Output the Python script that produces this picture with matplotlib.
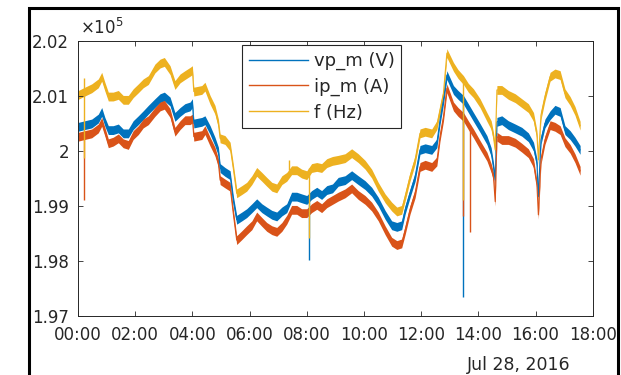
import numpy as np
import matplotlib
matplotlib.use('Agg')
import matplotlib.pyplot as plt
from matplotlib.lines import Line2D
from matplotlib.patches import Rectangle

plt.rcParams['font.family'] = ['DejaVu Sans']
plt.rcParams['mathtext.fontset'] = 'dejavusans'

# time of day in hours, Jul 28, 2016
hours = [0.01, 0.24, 0.48, 0.71, 0.83, 0.94, 1.06, 1.23, 1.41, 1.58,
         1.76, 1.93, 2.11, 2.28, 2.46, 2.69, 2.87, 3.02, 3.22, 3.39,
         3.57, 3.74, 3.92, 4.00, 4.05, 4.33, 4.44, 4.62, 4.79, 4.91,
         4.97, 5.14, 5.32, 5.43, 5.55, 5.73, 5.90, 6.08, 6.25, 6.43,
         6.60, 6.78, 6.95, 7.13, 7.30, 7.47, 7.65, 7.82, 8.00, 8.17,
         8.35, 8.52, 8.70, 8.90, 9.10, 9.34, 9.57, 9.80, 10.04, 10.27,
         10.50, 10.74, 10.97, 11.15, 11.32, 11.44, 11.61, 11.79, 11.96, 12.14,
         12.37, 12.55, 12.66, 12.78, 12.90, 13.13, 13.29, 13.48, 13.65, 13.83,
         14.06, 14.30, 14.45, 14.53, 14.59, 14.65, 14.82, 15.05, 15.29, 15.52,
         15.75, 15.93, 16.05, 16.10, 16.19, 16.33, 16.51, 16.68, 16.86, 17.03,
         17.21, 17.38, 17.56]

# values in units of 1e5
vp_m = [2.0044, 2.0047, 2.0050, 2.0059, 2.0071, 2.0053, 2.0038, 2.0038, 2.0041, 2.0032,
        2.0032, 2.0047, 2.0056, 2.0065, 2.0075, 2.0087, 2.0096, 2.0099, 2.0090, 2.0062,
        2.0071, 2.0078, 2.0081, 2.0087, 2.0050, 2.0053, 2.0056, 2.0038, 2.0017, 1.9999,
        1.9969, 1.9962, 1.9956, 1.9911, 1.9875, 1.9881, 1.9887, 1.9896, 1.9905, 1.9896,
        1.9890, 1.9884, 1.9881, 1.9890, 1.9896, 1.9917, 1.9917, 1.9914, 1.9911, 1.9920,
        1.9926, 1.9920, 1.9929, 1.9932, 1.9944, 1.9947, 1.9956, 1.9947, 1.9938, 1.9926,
        1.9908, 1.9884, 1.9865, 1.9862, 1.9865, 1.9893, 1.9923, 1.9953, 2.0002, 2.0005,
        2.0002, 2.0014, 2.0056, 2.0093, 2.0138, 2.0111, 2.0102, 2.0093, 2.0078, 2.0062,
        2.0042, 2.0020, 1.9998, 1.9971, 1.9947, 2.0053, 2.0056, 2.0047, 2.0041, 2.0035,
        2.0025, 2.0008, 1.9978, 1.9917, 2.0020, 2.0050, 2.0065, 2.0075, 2.0071, 2.0038,
        2.0029, 2.0017, 2.0002]

ip_m = [2.0026, 2.0029, 2.0032, 2.0041, 2.0053, 2.0035, 2.0014, 2.0017, 2.0023, 2.0014,
        2.0011, 2.0029, 2.0038, 2.0050, 2.0056, 2.0071, 2.0081, 2.0084, 2.0069, 2.0035,
        2.0047, 2.0056, 2.0056, 2.0059, 2.0026, 2.0029, 2.0038, 2.0017, 1.9999, 1.9978,
        1.9947, 1.9941, 1.9935, 1.9887, 1.9838, 1.9847, 1.9856, 1.9865, 1.9881, 1.9871,
        1.9862, 1.9856, 1.9853, 1.9862, 1.9875, 1.9893, 1.9893, 1.9887, 1.9887, 1.9896,
        1.9902, 1.9896, 1.9905, 1.9911, 1.9917, 1.9923, 1.9932, 1.9920, 1.9911, 1.9899,
        1.9881, 1.9856, 1.9835, 1.9829, 1.9832, 1.9856, 1.9893, 1.9923, 1.9971, 1.9975,
        1.9971, 1.9981, 2.0026, 2.0062, 2.0114, 2.0081, 2.0071, 2.0062, 2.0047, 2.0032,
        2.0011, 1.9990, 1.9969, 1.9953, 1.9908, 2.0026, 2.0020, 2.0020, 2.0015, 2.0006,
        1.9996, 1.9978, 1.9938, 1.9884, 1.9984, 2.0020, 2.0047, 2.0044, 2.0038, 2.0016,
        2.0004, 1.9987, 1.9964]

f_hz = [2.0102, 2.0108, 2.0114, 2.0123, 2.0135, 2.0117, 2.0099, 2.0099, 2.0102, 2.0093,
        2.0093, 2.0105, 2.0114, 2.0123, 2.0129, 2.0150, 2.0159, 2.0162, 2.0147, 2.0120,
        2.0132, 2.0138, 2.0144, 2.0147, 2.0108, 2.0111, 2.0117, 2.0093, 2.0075, 2.0050,
        2.0023, 2.0020, 2.0008, 1.9969, 1.9923, 1.9929, 1.9935, 1.9947, 1.9962, 1.9953,
        1.9944, 1.9935, 1.9932, 1.9947, 1.9953, 1.9965, 1.9965, 1.9959, 1.9956, 1.9969,
        1.9971, 1.9969, 1.9978, 1.9982, 1.9984, 1.9987, 1.9996, 1.9987, 1.9975, 1.9959,
        1.9935, 1.9914, 1.9899, 1.9890, 1.9893, 1.9917, 1.9953, 1.9984, 2.0032, 2.0035,
        2.0032, 2.0047, 2.0075, 2.0105, 2.0178, 2.0153, 2.0140, 2.0129, 2.0115, 2.0105,
        2.0087, 2.0062, 2.0047, 2.0026, 2.0002, 2.0111, 2.0111, 2.0102, 2.0096, 2.0087,
        2.0078, 2.0062, 2.0029, 1.9984, 2.0065, 2.0099, 2.0135, 2.0141, 2.0138, 2.0105,
        2.0091, 2.0073, 2.0046]

# half-width of the fast measurement noise band (units of 1e5)
noise_halfwidth = 0.0008

# isolated spikes: time, value before spike, spike tip
vp_spike_t = [8.09, 13.47]
vp_spike_base = [1.9920, 2.0093]
vp_spike_tip = [1.9802, 1.9734]
ip_spike_t = [0.20, 13.47, 13.71]
ip_spike_base = [2.0031, 2.0062, 2.0047]
ip_spike_tip = [1.9911, 1.9881, 1.9853]
f_spike_t = [0.20, 7.39, 8.09, 13.47]
f_spike_base = [2.0133, 1.9965, 1.9969, 2.0129]
f_spike_tip = [1.9987, 1.9984, 1.9842, 1.9911]

labels = ['vp_m (V)', 'ip_m (A)', 'f (Hz)']
colors = ['#0072BD', '#D95319', '#EDB120']
x_ticks = [0, 2, 4, 6, 8, 10, 12, 14, 16, 18]
x_ticklabels = ['00:00', '02:00', '04:00', '06:00', '08:00', '10:00',
                '12:00', '14:00', '16:00', '18:00']
y_ticks = [1.97, 1.98, 1.99, 2.00, 2.01, 2.02]
y_ticklabels = ['1.97', '1.98', '1.99', '2', '2.01', '2.02']
date_label = 'Jul 28, 2016'

W, H = 621, 375
fig = plt.figure(figsize=(W / 100, H / 100), dpi=100)
fig.patch.set_facecolor('white')
ax = fig.add_axes([78 / W, 1 - 316 / H, (592.7 - 78) / W, (316 - 41) / H])

t = np.array(hours)
series = [
    (np.array(vp_m), vp_spike_t, vp_spike_base, vp_spike_tip),
    (np.array(ip_m), ip_spike_t, ip_spike_base, ip_spike_tip),
    (np.array(f_hz), f_spike_t, f_spike_base, f_spike_tip),
]
for (v, st, sb, stip), c in zip(series, colors):
    ax.fill_between(t, v - noise_halfwidth, v + noise_halfwidth, color=c, lw=0)
    ax.plot(t, v, color=c, lw=0.8)
    ax.vlines(st, sb, stip, color=c, lw=1.0)

ax.set_xlim(0, 18)
ax.set_ylim(1.97, 2.02)
ax.set_xticks(x_ticks)
ax.set_xticklabels(x_ticklabels)
ax.set_yticks(y_ticks)
ax.set_yticklabels(y_ticklabels)

dark = '#262626'
ax.tick_params(axis='both', direction='in', length=3.5, width=0.6, top=True,
               right=True, labelsize=12, colors=dark)
ax.tick_params(axis='y', pad=6.5)
ax.tick_params(axis='x', pad=7.5)
for s in ax.spines.values():
    s.set_color(dark)
    s.set_linewidth(0.7)

ax.text(0.004, 1.01, r'$\times10^{5}$', transform=ax.transAxes, fontsize=12,
        color=dark, ha='left', va='bottom')

handles = [Line2D([], [], color=c, lw=1.0) for c in colors]
leg = ax.legend(handles, labels, loc='upper left',
                bbox_to_anchor=(241.7 / W, 1 - 45 / H),
                bbox_transform=fig.transFigure, frameon=True, fancybox=False,
                edgecolor=dark, framealpha=1, fontsize=13, handlelength=3.3,
                handletextpad=0.3, borderpad=0.38, labelspacing=0.42,
                borderaxespad=0)
leg.get_frame().set_linewidth(0.8)
for txt in leg.get_texts():
    txt.set_color(dark)

fig.text(519 / W, 1 - 370 / H, date_label, ha='center', va='baseline',
         fontsize=12.5, color=dark)

fig.patches.append(Rectangle((29 / W, -0.1), (618 - 29) / W, 1.1 - 8 / H,
                             transform=fig.transFigure, fill=False,
                             edgecolor='black', lw=2.2))

fig.savefig('out.png', dpi=100)
